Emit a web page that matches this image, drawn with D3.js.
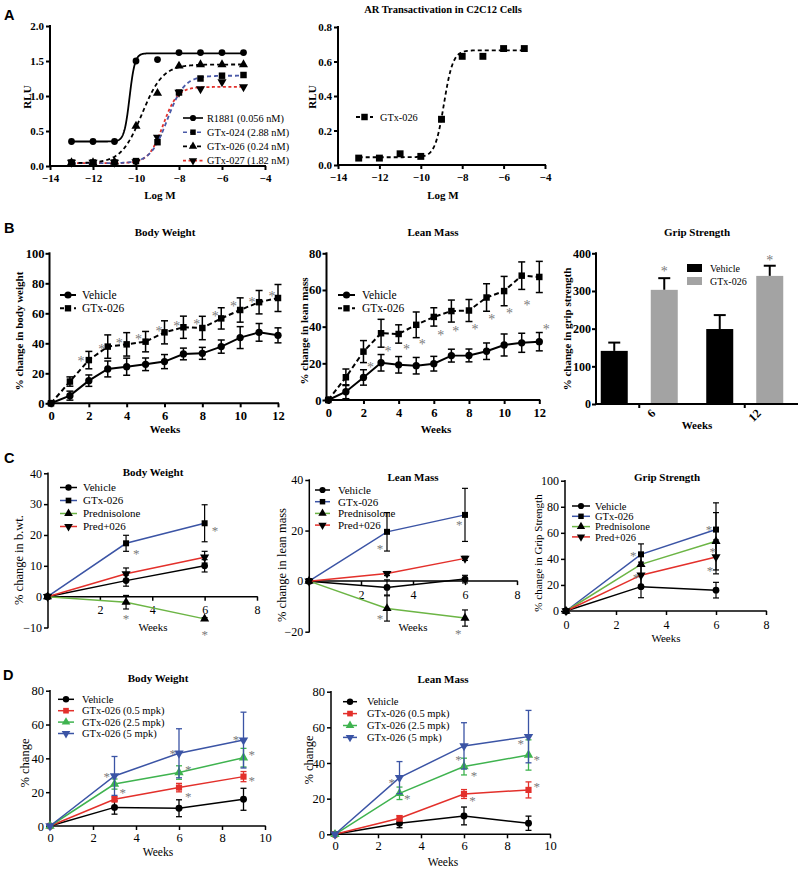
<!DOCTYPE html>
<html><head><meta charset="utf-8">
<script src="https://cdn.jsdelivr.net/npm/d3@7"></script>
<style>
body{margin:0;background:#fff}
svg{display:block;background:#fff}
</style></head>
<body>
<svg id="fig" width="800" height="869"></svg>
<script>
/* ---------- Panel A: dose response (log M) ---------- */
const aLogM   = [-13,-12,-11,-10,-9,-8,-7,-6,-5];
const aR1881  = [0.35,0.35,0.35,1.50,1.52,1.62,1.62,1.62,1.62];
const aGtx024 = [0.05,0.05,0.05,0.07,0.34,1.05,1.25,1.29,1.30];
const aGtx026 = [0.05,0.05,0.06,0.57,1.04,1.43,1.45,1.45,1.45];
const aGtx027 = [0.05,0.05,0.05,0.06,0.41,1.05,1.10,1.20,1.13];
const aNames  = ['R1881 (0.056 nM)','GTx-024 (2.88 nM)','GTx-026 (0.24 nM)','GTx-027 (1.82 nM)'];
// fitted 4PL params: bottom, top, logEC50, hill
const aFitR1881  = [0.35,1.61,-10.3,3.5];
const aFitGtx024 = [0.04,1.29,-8.54,1.1];
const aFitGtx026 = [0.04,1.45,-9.72,0.9];
const aFitGtx027 = [0.04,1.13,-8.74,1.3];

const a2Gtx026 = [0.04,0.04,0.065,0.05,0.265,0.63,0.63,0.675,0.675];
const a2Fit    = [0.045,0.665,-8.88,2];

/* ---------- Panel B: 12 week study ---------- */
const bWeeks = [0,1,2,3,4,5,6,7,8,9,10,11,12];
const bBodyVeh    = [0,5.1,15.1,22.9,24.4,26,27.8,32.9,33.3,37.8,43.8,47.3,45.3];
const bBodyVehErr = [0,3,3.8,5.3,5.7,4.2,4.7,3.9,4,4.4,7.3,5.9,5];
const bBodyGtx    = [0,14.5,28.8,37.8,39.3,41.1,47.3,50.7,50.2,56.6,62.2,67.4,70.2];
const bBodyGtxErr = [0,3.1,5.8,7.8,7.8,6.8,7.7,7.4,7.8,7.1,8.1,7.8,9];
const bBodyStars  = [[1.59,30.9],[2.68,38.7],[3.61,42.4],[4.62,45.3],[5.71,50.4],[6.65,54],[7.71,55.3],[8.68,60.5],[9.65,67],[10.62,69.8],[11.68,74.2]];

const bLeanVeh    = [0,4.5,12.3,20.3,19.2,18.7,19.8,24.2,24.3,26.6,30,31.2,31.8];
const bLeanVehErr = [0,3.8,4.2,4.5,4.5,4.5,4,3.5,3.5,4.5,6,5.2,5];
const bLeanGtx    = [0,12.4,26.4,36.4,36,41,45.3,48.5,48.8,55.9,59.4,67.8,67.1];
const bLeanGtxErr = [0,4.5,6,7.6,5,7,5,6,6,7.5,8,7.5,8.5];
const bLeanStars  = [[2.4,20],[3.4,28.7],[4.45,29.8],[5.35,32.7],[6.4,37.2],[7.25,39.6],[8.35,40.9],[9.3,46.2],[10.3,49.6],[11.3,53.8],[12.4,40.5]];

const gripWeeks  = ['6','12'];
const gripGroups = ['Vehicle','GTx-026'];
const gripVeh    = [141,199];
const gripVehErr = [22,37];
const gripGtx    = [303,340];
const gripGtxErr = [31,27];
const gripStars  = [362,393];

/* ---------- Panel C: prednisolone study ---------- */
const cWeeks = [0,3,6];
const cNames = ['Vehicle','GTx-026','Prednisolone','Pred+026'];
const cBodyVeh = [0,5.2,10],    cBodyVehErr = [0,1.8,2];
const cBodyGtx = [0,17.3,23.8], cBodyGtxErr = [0,2.6,6];
const cBodyPred = [0,-1.8,-7.2],cBodyPredErr = [0,2.2,0.4];
const cBodyPG  = [0,7.4,12.8],  cBodyPGErr  = [0,1.9,1.9];
const cBodyStars = [[3.39,15.2],[6.4,22.5],[3.0,-5.9],[6.0,-11.1]];

const cLeanVeh = [0,-2.5,0.8],   cLeanVehErr = [0,3,1.5];
const cLeanGtx = [0,19.5,26.2],  cLeanGtxErr = [0,7.6,10.5];
const cLeanPred = [0,-10.8,-14.6],cLeanPredErr = [0,5,3.2];
const cLeanPG  = [0,3,9],        cLeanPGErr  = [0,0.8,0.8];
const cLeanStars = [[2.73,14.3],[5.78,23.9],[2.73,-13.5],[5.74,-19.4]];

const cGripVeh = [0,18.7,16],    cGripVehErr = [0,8.5,6];
const cGripGtx = [0,43.5,62.5],  cGripGtxErr = [0,8,20.5];
const cGripPred = [0,35.8,53.5], cGripPredErr = [0,8,22];
const cGripPG  = [0,27.5,41.5],  cGripPGErr  = [0,10,13];
const cGripStars = [[2.69,45.5],[5.72,65.2],[5.87,48.1],[2.8,28.4],[5.76,34]];

/* ---------- Panel D: dose study ---------- */
const dWeeks = [0,3,6,9];
const dNames = ['Vehicle','GTx-026 (0.5 mpk)','GTx-026 (2.5 mpk)','GTx-026 (5 mpk)'];
const dBodyVeh  = [0,11,10.5,15.8],  dBodyVehErr  = [0,4,5,6.5];
const dBodyLow  = [0,15.8,22.7,29.2],dBodyLowErr  = [0,1.5,2.5,3];
const dBodyMid  = [0,24.8,31.6,40.4],dBodyMidErr  = [0,3,4,5.5];
const dBodyHigh = [0,29.6,43,50.8],  dBodyHighErr = [0,11.5,14.5,16.5];
const dBodyStars = [[2.64,31.2],[5.71,45],[8.65,53.3],[3.38,21.7],[6.43,35.5],[9.38,44.4],[6.43,19.7],[9.38,28.8]];

const dLeanVeh  = [0,6.2,10.3,6.2],  dLeanVehErr  = [0,2.5,5,4];
const dLeanLow  = [0,9,22.6,24.9],   dLeanLowErr  = [0,1.5,2.5,4.5];
const dLeanMid  = [0,23,38,44.5],    dLeanMidErr  = [0,3.5,4.7,8.5];
const dLeanHigh = [0,31.8,49.6,54.8],dLeanHighErr = [0,9,13,14.7];
const dLeanStars = [[2.64,31.1],[5.74,44],[8.64,53],[3.36,22],[6.47,35.2],[9.38,44],[6.4,20.8],[9.38,29]];

/* ---------- helpers ---------- */
const SERIF = "'Liberation Serif','Times New Roman',serif";
const SANS  = "'Liberation Sans',Arial,sans-serif";
const BLUE = '#3b54a5', GREEN = '#3fb34f', RED = '#e3302b', CGREEN = '#6cb545';
const svg = d3.select('#fig');

function txt(s, x, y, o = {}){
  const t = svg.append('text').attr('x', x).attr('y', y).text(s)
    .attr('font-family', o.family || SERIF).attr('font-size', o.size || 11)
    .attr('font-weight', o.bold ? 'bold' : 'normal').attr('fill', o.fill || '#000')
    .attr('text-anchor', o.anchor || 'middle').attr('dy', o.dy == null ? '0.35em' : o.dy);
  if (o.rotate) t.attr('transform', `rotate(${o.rotate},${x},${y})`);
  return t;
}

const shapes = { circle:d3.symbolCircle, square:d3.symbolSquare, up:d3.symbolTriangle, down:d3.symbolTriangle };
function marker(g, type, x, y, size, fill){
  g.append('path').attr('d', d3.symbol(shapes[type], size)())
    .attr('transform', `translate(${x},${y})` + (type === 'down' ? ' rotate(180)' : ''))
    .attr('fill', fill);
}

function panel(c){
  const g = svg.append('g');
  const x = d3.scaleLinear().domain(c.xDom).range(c.xRng);
  const y = d3.scaleLinear().domain(c.yDom).range(c.yRng);
  const xAt = c.xAt != null ? c.xAt : y(c.yDom[0]);
  const yAt = c.yAt != null ? c.yAt : x(c.xDom[0]);
  const ax = d3.axisBottom(x).tickValues(c.xTicks).tickSize(c.tick || 4).tickPadding(c.xPad || 4);
  const ay = d3.axisLeft(y).tickValues(c.yTicks).tickSize(c.tick || 4).tickPadding(c.yPad || 3);
  if (c.yFmt) ay.tickFormat(c.yFmt);
  const gx = g.append('g').attr('transform', `translate(0,${xAt})`).call(ax);
  const gy = g.append('g').attr('transform', `translate(${yAt},0)`).call(ay);
  [gx, gy].forEach(a => {
    a.select('.domain').remove();
    a.selectAll('.tick line').attr('stroke', '#000').attr('stroke-width', c.aw);
    a.selectAll('.tick text').attr('font-family', SERIF).attr('font-size', c.fs)
      .attr('font-weight', c.bold ? 'bold' : 'normal').attr('fill', '#000');
  });
  g.append('line').attr('x1', yAt).attr('x2', c.xRng[1]).attr('y1', xAt).attr('y2', xAt)
    .attr('stroke', '#000').attr('stroke-width', c.aw).attr('stroke-linecap', 'square');
  g.append('line').attr('x1', yAt).attr('x2', yAt).attr('y1', c.yRng[0]).attr('y2', c.yRng[1])
    .attr('stroke', '#000').attr('stroke-width', c.aw).attr('stroke-linecap', 'square');
  return { g, x, y };
}

function series(p, xs, s, o){
  const line = d3.line().x((d, i) => p.x(xs[i])).y(d => p.y(d));
  if (s.curve){
    const pts = d3.range(xs[0], xs[xs.length - 1] + 0.001, 0.02);
    const [b, t, ec, h] = s.curve;
    p.g.append('path').datum(pts)
      .attr('d', d3.line().x(d => p.x(d)).y(d => p.y(b + (t - b) / (1 + Math.pow(10, (ec - d) * h)))))
      .attr('fill', 'none').attr('stroke', s.color).attr('stroke-width', o.lw).attr('stroke-dasharray', s.dash || null);
  } else {
    p.g.append('path').datum(s.vals).attr('d', line).attr('fill', 'none')
      .attr('stroke', s.color).attr('stroke-width', o.lw).attr('stroke-dasharray', s.dash || null);
  }
  if (s.err){
    s.vals.forEach((v, i) => {
      const e = s.err[i]; if (!e) return;
      const cx = p.x(xs[i]), y1 = p.y(v + e), y2 = p.y(v - e);
      const ec = s.ecolor || '#000';
      p.g.append('line').attr('x1', cx).attr('x2', cx).attr('y1', y1).attr('y2', y2).attr('stroke', ec).attr('stroke-width', o.ew);
      [y1, y2].forEach(yy => p.g.append('line').attr('x1', cx - o.cap / 2).attr('x2', cx + o.cap / 2)
        .attr('y1', yy).attr('y2', yy).attr('stroke', ec).attr('stroke-width', o.ew));
    });
  }
  s.vals.forEach((v, i) => marker(p.g, s.marker, p.x(xs[i]), p.y(v), o.ms, s.mfill || '#000'));
}

function stars(p, list, size){
  list.forEach(([sx, sy]) => txt('*', p.x(sx), p.y(sy), { size: size || 13, fill: '#7b7b7b', dy: '0.62em' }));
}

function legend(items, o){
  items.forEach((it, i) => {
    const yy = o.y + i * o.dy;
    svg.append('line').attr('x1', o.x0).attr('x2', o.x1).attr('y1', yy).attr('y2', yy)
      .attr('stroke', it.color).attr('stroke-width', o.lw).attr('stroke-dasharray', it.dash || null);
    marker(svg, it.marker, (o.x0 + o.x1) / 2, yy, o.ms, it.mfill || '#000');
    txt(it.name, o.tx, yy, { size: o.size, anchor: 'start' });
  });
}

/* ---------- Panel letters ---------- */
[['A', 4, 19.5], ['B', 4, 233], ['C', 4, 463], ['D', 3, 680]].forEach(([s, x, y]) =>
  txt(s, x, y, { family: SANS, size: 14.5, bold: true, anchor: 'start', dy: 0 }));

/* ---------- A left ---------- */
const aSeries = [
  { vals:aGtx027, curve:aFitGtx027, color:RED,    dash:'3,2.5', marker:'down' },
  { vals:aGtx024, curve:aFitGtx024, color:'#4a5aa8', dash:'4,3', marker:'square' },
  { vals:aGtx026, curve:aFitGtx026, color:'#000', dash:'4,3',   marker:'up' },
  { vals:aR1881,  curve:aFitR1881,  color:'#000', marker:'circle' }
];
const pA = panel({ xDom:[-14,-4], xRng:[50,265], yDom:[0,2], yRng:[166,26], xTicks:[-14,-12,-10,-8,-6,-4],
  yTicks:[0,0.5,1,1.5,2], yFmt:d3.format('.1f'), bold:true, fs:11, aw:2, tick:4, xPad:4, yPad:2 });
aSeries.forEach(s => series(pA, aLogM, s, { lw:1.8, ms:s.marker === 'square' ? 42 : 36 }));
legend([aSeries[3], aSeries[1], aSeries[2], aSeries[0]].map((s, i) => Object.assign({}, s, { name:aNames[i] })),
  { x0:183, x1:203, tx:207, y:118, dy:14.2, lw:1.6, ms:30, size:10.3 });
txt('RLU', 27, 97, { size:11, bold:true, rotate:-90 });
txt('Log  M', 160, 195, { size:11, bold:true });

/* ---------- A right ---------- */
const pA2 = panel({ xDom:[-14,-4], xRng:[338,545], yDom:[0,0.8], yRng:[165,27], xTicks:[-14,-12,-10,-8,-6,-4],
  yTicks:[0,0.2,0.4,0.6,0.8], yFmt:d3.format('.1f'), bold:true, fs:11, aw:2, tick:4, xPad:4, yPad:2 });
const a2S = { vals:a2Gtx026, curve:a2Fit, color:'#000', dash:'4,3', marker:'square' };
series(pA2, aLogM, a2S, { lw:1.8, ms:48 });
legend([Object.assign({ name:'GTx-026' }, a2S)], { x0:356, x1:373, tx:380, y:117, dy:14, lw:1.8, ms:42, size:10.3 });
txt('AR Transactivation in  C2C12  Cells', 443, 9, { size:10.5, bold:true });
txt('RLU', 312, 97, { size:11, bold:true, rotate:-90 });
txt('Log  M', 443, 195, { size:11, bold:true });

/* ---------- B body weight ---------- */
const bOpt = { lw:2, ew:1.5, cap:7, ms:42 };
const pB1 = panel({ xDom:[0,12], xRng:[51,278], yDom:[0,100], yRng:[403.3,253.3], yAt:49.5,
  xTicks:[0,2,4,6,8,10,12], yTicks:[0,20,40,60,80,100], bold:true, fs:12.5, aw:2, tick:4, xPad:4, yPad:1 });
series(pB1, bWeeks, { vals:bBodyVeh, err:bBodyVehErr, color:'#000', marker:'circle' }, bOpt);
series(pB1, bWeeks, { vals:bBodyGtx, err:bBodyGtxErr, color:'#000', dash:'5,3', marker:'square' }, bOpt);
stars(pB1, bBodyStars, 14);
legend([{ name:'Vehicle', color:'#000', marker:'circle' }, { name:'GTx-026', color:'#000', dash:'4,3', marker:'square' }],
  { x0:60, x1:76, tx:82, y:295, dy:13.3, lw:2, ms:40, size:11.5 });
txt('Body  Weight', 165, 232, { size:11, bold:true });
txt('% change in body weight', 19, 331, { size:11, bold:true, rotate:-90 });
txt('Weeks', 165, 429, { size:11, bold:true });

/* ---------- B lean mass ---------- */
const pB2 = panel({ xDom:[0,12], xRng:[328.3,539.3], yDom:[0,80], yRng:[400,253.3], yAt:326.5,
  xTicks:[0,2,4,6,8,10,12], yTicks:[0,20,40,60,80], bold:true, fs:12.5, aw:2, tick:4, xPad:4, yPad:1 });
series(pB2, bWeeks, { vals:bLeanVeh, err:bLeanVehErr, color:'#000', marker:'circle' }, bOpt);
series(pB2, bWeeks, { vals:bLeanGtx, err:bLeanGtxErr, color:'#000', dash:'5,3', marker:'square' }, bOpt);
stars(pB2, bLeanStars, 14);
legend([{ name:'Vehicle', color:'#000', marker:'circle' }, { name:'GTx-026', color:'#000', dash:'4,3', marker:'square' }],
  { x0:338, x1:355, tx:362, y:295, dy:13.3, lw:2, ms:40, size:11.5 });
txt('Lean Mass', 433, 232, { size:11, bold:true });
txt('% change in lean mass', 304, 331, { size:11, bold:true, rotate:-90 });
txt('Weeks', 436, 429, { size:11, bold:true });

/* ---------- B grip strength (bars) ---------- */
{
  const g = svg.append('g');
  const xg = d3.scaleBand().domain(gripWeeks).range([596, 788]).paddingInner(0.27).paddingOuter(0.045);
  const xs = d3.scaleBand().domain(gripGroups).range([0, xg.bandwidth()]).paddingInner(0.46);
  const y = d3.scaleLinear().domain([0,400]).range([404,253.3]);
  const vals = [gripVeh, gripGtx], errs = [gripVehErr, gripGtxErr], fills = ['#000', '#a3a3a3'];
  gripGroups.forEach((grp, si) => {
    gripWeeks.forEach((wk, wi) => {
      const bx = xg(wk) + xs(grp), bw = xs.bandwidth(), v = vals[si][wi], e = errs[si][wi];
      const cx = bx + bw / 2;
      g.append('line').attr('x1', cx).attr('x2', cx).attr('y1', y(v)).attr('y2', y(v + e)).attr('stroke', '#000').attr('stroke-width', 2);
      g.append('line').attr('x1', cx - 6).attr('x2', cx + 6).attr('y1', y(v + e)).attr('y2', y(v + e)).attr('stroke', '#000').attr('stroke-width', 2);
      g.append('rect').attr('x', bx).attr('y', y(v)).attr('width', bw).attr('height', y(0) - y(v)).attr('fill', fills[si]);
      if (si === 1) txt('*', cx, y(gripStars[wi]), { size:14, fill:'#7b7b7b', dy:'0.62em' });
    });
  });
  const ay = d3.axisLeft(y).tickValues([0,100,200,300,400]).tickSize(4).tickPadding(1);
  const gy = g.append('g').attr('transform', 'translate(596,0)').call(ay);
  gy.select('.domain').remove();
  gy.selectAll('.tick line').attr('stroke', '#000').attr('stroke-width', 2);
  gy.selectAll('.tick text').attr('font-family', SERIF).attr('font-size', 12).attr('font-weight', 'bold').attr('fill', '#000');
  g.append('line').attr('x1', 596).attr('x2', 596).attr('y1', 404).attr('y2', 253.3).attr('stroke', '#000').attr('stroke-width', 2).attr('stroke-linecap', 'square');
  g.append('line').attr('x1', 596).attr('x2', 797).attr('y1', 404).attr('y2', 404).attr('stroke', '#000').attr('stroke-width', 2).attr('stroke-linecap', 'square');
  gripWeeks.forEach(wk => {
    const cx = xg(wk) + xg.bandwidth() / 2;
    g.append('line').attr('x1', cx).attr('x2', cx).attr('y1', 404).attr('y2', 408).attr('stroke', '#000').attr('stroke-width', 2);
    txt(wk, cx + 11, 408, { size:12, bold:true, anchor:'end', dy:'0.7em', rotate:-45 });
  });
  gripGroups.forEach((grp, i) => {
    svg.append('rect').attr('x', 687).attr('y', 264 + i * 13).attr('width', 15).attr('height', 8).attr('fill', fills[i]);
    txt(grp, 710, 268 + i * 13, { size:10, anchor:'start' });
  });
  txt('Grip Strength', 697, 232, { size:11, bold:true });
  txt('% change in grip strength', 567, 329, { size:11, bold:true, rotate:-90 });
  txt('Weeks', 697, 425, { size:11, bold:true });
}

/* ---------- C panels ---------- */
const cOpt = { lw:1.5, ew:1.2, cap:6, ms:36 };
function cSeries(p, sets){
  const st = [
    { color:'#000', marker:'circle' }, { color:BLUE, marker:'square' },
    { color:CGREEN, marker:'up' }, { color:RED, marker:'down' }
  ];
  sets.forEach(([v, e], i) => series(p, cWeeks, Object.assign({ vals:v, err:e }, st[i]), cOpt));
  return st.map((s, i) => Object.assign({ name:cNames[i] }, s));
}

const pC1 = panel({ xDom:[0,8], xRng:[47.5,257], yDom:[-10,40], yRng:[627.5,473.3], yAt:48, xAt:596.7,
  xTicks:[2,4,6,8], yTicks:[-10,0,10,20,30,40], fs:12, aw:1.5, tick:4, xPad:5, yPad:2 });
const cLeg1 = cSeries(pC1, [[cBodyVeh,cBodyVehErr],[cBodyGtx,cBodyGtxErr],[cBodyPred,cBodyPredErr],[cBodyPG,cBodyPGErr]]);
stars(pC1, cBodyStars, 13);
legend(cLeg1, { x0:60, x1:77, tx:83, y:487.5, dy:13, lw:1.5, ms:32, size:11 });
txt('Body  Weight', 153, 471.7, { size:11, bold:true });
txt('% change in b.wt.', 18.5, 560, { size:12.5, rotate:-90 });
txt('Weeks', 153, 627, { size:11 });

const pC2 = panel({ xDom:[0,8], xRng:[309,517], yDom:[-20,40], yRng:[631.7,480], yAt:309.3, xAt:581.1,
  xTicks:[2,4,6,8], yTicks:[-20,0,20,40], fs:12, aw:1.5, tick:4, xPad:5, yPad:2 });
const cLeg2 = cSeries(pC2, [[cLeanVeh,cLeanVehErr],[cLeanGtx,cLeanGtxErr],[cLeanPred,cLeanPredErr],[cLeanPG,cLeanPGErr]]);
stars(pC2, cLeanStars, 13);
legend(cLeg2, { x0:315, x1:330, tx:338, y:490, dy:11.7, lw:1.5, ms:30, size:11 });
txt('Lean  Mass', 413, 476.7, { size:11, bold:true });
txt('% change in lean mass', 281.7, 565, { size:12.5, rotate:-90 });
txt('Weeks', 413, 627, { size:11 });

const pC3 = panel({ xDom:[0,8], xRng:[566,766], yDom:[0,100], yRng:[611,480.7], yAt:565,
  xTicks:[0,2,4,6,8], yTicks:[0,20,40,60,80,100], fs:12, aw:1.5, tick:4, xPad:5, yPad:2 });
const cLeg3 = cSeries(pC3, [[cGripVeh,cGripVehErr],[cGripGtx,cGripGtxErr],[cGripPred,cGripPredErr],[cGripPG,cGripPGErr]]);
stars(pC3, cGripStars, 13);
legend(cLeg3, { x0:572, x1:590, tx:595, y:506, dy:10.3, lw:1.5, ms:30, size:10.5 });
txt('Grip  Strength', 667, 476.7, { size:11, bold:true });
txt('% change in Grip Strength', 538.5, 553, { size:11, rotate:-90 });
txt('Weeks', 666, 638, { size:11 });

/* ---------- D panels ---------- */
const dOpt = { lw:1.5, ew:1.3, cap:6, ms:38 };
function dSeries(p, sets){
  const st = [
    { color:'#000', marker:'circle', mfill:'#000' }, { color:RED, marker:'square', mfill:RED, ecolor:RED },
    { color:GREEN, marker:'up', mfill:GREEN, ecolor:GREEN }, { color:BLUE, marker:'down', mfill:BLUE, ecolor:BLUE }
  ];
  sets.forEach(([v, e], i) => series(p, dWeeks, Object.assign({ vals:v, err:e }, st[i]), dOpt));
  return st.map((s, i) => Object.assign({ name:dNames[i] }, s));
}

const pD1 = panel({ xDom:[0,10], xRng:[50,265], yDom:[0,80], yRng:[826,690.7],
  xTicks:[0,2,4,6,8,10], yTicks:[0,20,40,60,80], fs:12.5, aw:1.5, tick:4, xPad:3, yPad:2 });
const dLeg1 = dSeries(pD1, [[dBodyVeh,dBodyVehErr],[dBodyLow,dBodyLowErr],[dBodyMid,dBodyMidErr],[dBodyHigh,dBodyHighErr]]);
stars(pD1, dBodyStars, 13);
legend(dLeg1, { x0:58, x1:74, tx:82, y:699.3, dy:11.4, lw:1.5, ms:32, size:10.5 });
txt('Body Weight', 158, 678.3, { size:11, bold:true });
txt('% change', 25, 763, { size:12.5, rotate:-90 });
txt('Weeks', 158, 851.7, { size:11.5 });

const pD2 = panel({ xDom:[0,10], xRng:[335,550], yDom:[0,80], yRng:[834.3,691.7], yAt:331,
  xTicks:[0,2,4,6,8,10], yTicks:[0,20,40,60,80], fs:12.5, aw:1.5, tick:4, xPad:3, yPad:2 });
const dLeg2 = dSeries(pD2, [[dLeanVeh,dLeanVehErr],[dLeanLow,dLeanLowErr],[dLeanMid,dLeanMidErr],[dLeanHigh,dLeanHighErr]]);
stars(pD2, dLeanStars, 13);
legend(dLeg2, { x0:343, x1:357, tx:367, y:701.7, dy:11.9, lw:1.5, ms:32, size:10.5 });
txt('Lean Mass', 443, 679.3, { size:11, bold:true });
txt('% change', 308.5, 760, { size:12.5, rotate:-90 });
txt('Weeks', 443, 861.5, { size:11.5 });
</script>
</body></html>
